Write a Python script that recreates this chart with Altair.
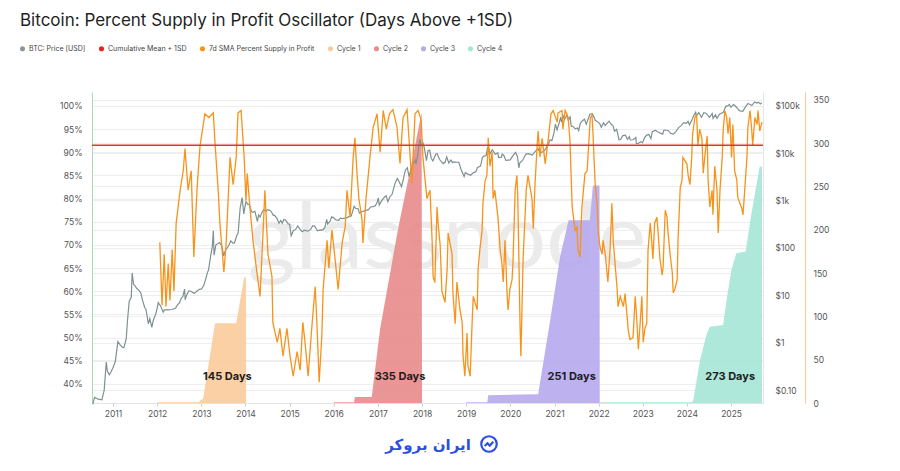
import altair as alt
import pandas as pd

TITLE = "Bitcoin: Percent Supply in Profit Oscillator (Days Above +1SD)"
SERIES = ["BTC: Price [USD]", "Cumulative Mean + 1SD", "7d SMA Percent Supply in Profit",
          "Cycle 1", "Cycle 2", "Cycle 3", "Cycle 4"]
COLORS = ["#8a9899", "#e8231f", "#f7931a", "#f9cb9a", "#e98b8b", "#b6a9ee", "#a4e5d6"]

# ---------------- BTC price (USD) ----------------
PRICE_DATE = [
    "2010-07-17", "2010-08-01", "2010-09-01", "2010-10-01", "2010-10-20", "2010-11-06", "2010-11-15", "2010-12-01", "2010-12-15",
    "2011-01-01", "2011-01-20", "2011-02-10", "2011-03-01", "2011-03-20", "2011-04-01", "2011-04-20", "2011-05-01", "2011-05-15",
    "2011-06-01", "2011-06-08", "2011-06-20", "2011-07-01", "2011-07-15", "2011-08-01", "2011-08-20", "2011-09-01", "2011-09-20",
    "2011-10-01", "2011-10-20", "2011-11-01", "2011-11-18", "2011-12-01", "2011-12-20",
    "2012-01-01", "2012-01-10", "2012-02-01", "2012-02-20", "2012-03-01", "2012-04-01", "2012-05-01", "2012-06-01", "2012-06-20",
    "2012-07-01", "2012-07-20", "2012-08-01", "2012-08-15", "2012-08-20", "2012-09-01", "2012-09-20", "2012-10-01", "2012-10-20",
    "2012-11-01", "2012-11-20", "2012-12-01", "2012-12-20",
    "2013-01-01", "2013-01-20", "2013-02-01", "2013-02-20", "2013-03-01", "2013-03-20", "2013-04-01", "2013-04-10", "2013-04-16",
    "2013-05-01", "2013-05-20", "2013-06-01", "2013-06-20", "2013-07-05", "2013-07-20", "2013-08-01", "2013-08-20", "2013-09-01",
    "2013-09-20", "2013-10-01", "2013-10-20", "2013-11-01", "2013-11-18", "2013-12-04", "2013-12-18", "2013-12-28",
    "2014-01-05", "2014-01-20", "2014-02-01", "2014-02-20", "2014-03-01", "2014-03-20", "2014-04-10", "2014-04-20", "2014-05-01",
    "2014-05-20", "2014-06-01", "2014-06-20", "2014-07-01", "2014-07-20", "2014-08-01", "2014-08-18", "2014-09-01", "2014-09-20",
    "2014-10-05", "2014-10-20", "2014-11-01", "2014-11-15", "2014-12-01", "2014-12-20",
    "2015-01-01", "2015-01-14", "2015-02-01", "2015-02-20", "2015-03-10", "2015-03-25", "2015-04-15", "2015-05-01", "2015-06-01",
    "2015-06-25", "2015-07-10", "2015-07-25", "2015-08-20", "2015-09-10", "2015-10-01", "2015-10-20", "2015-11-04", "2015-11-11",
    "2015-12-01", "2015-12-15",
    "2016-01-01", "2016-01-20", "2016-02-10", "2016-02-25", "2016-03-15", "2016-04-15", "2016-05-01", "2016-05-25", "2016-06-18",
    "2016-07-01", "2016-07-20", "2016-08-02", "2016-08-20", "2016-09-15", "2016-10-15", "2016-11-01", "2016-11-20", "2016-12-10",
    "2016-12-25",
    "2017-01-04", "2017-01-12", "2017-02-01", "2017-02-25", "2017-03-10", "2017-03-24", "2017-04-10", "2017-04-28", "2017-05-10",
    "2017-05-25", "2017-06-10", "2017-06-25", "2017-07-15", "2017-07-31", "2017-08-15", "2017-09-01", "2017-09-15", "2017-10-01",
    "2017-10-20", "2017-11-07", "2017-11-12", "2017-11-28", "2017-12-07", "2017-12-17", "2017-12-22",
    "2018-01-06", "2018-01-20", "2018-02-06", "2018-02-20", "2018-03-05", "2018-03-18", "2018-04-01", "2018-04-25", "2018-05-05",
    "2018-05-25", "2018-06-24", "2018-07-10", "2018-07-24", "2018-08-10", "2018-08-28", "2018-09-10", "2018-09-20", "2018-10-15",
    "2018-11-01", "2018-11-20", "2018-12-15", "2018-12-25",
    "2019-01-15", "2019-02-07", "2019-02-25", "2019-03-20", "2019-04-05", "2019-04-30", "2019-05-15", "2019-05-30", "2019-06-15",
    "2019-06-26", "2019-07-10", "2019-07-17", "2019-08-05", "2019-08-29", "2019-09-20", "2019-09-26", "2019-10-20", "2019-10-26",
    "2019-11-10", "2019-11-25", "2019-12-15",
    "2020-01-01", "2020-01-20", "2020-02-13", "2020-02-28", "2020-03-12", "2020-03-20", "2020-04-10", "2020-04-30", "2020-05-10",
    "2020-05-30", "2020-06-15", "2020-07-01", "2020-07-27", "2020-08-17", "2020-09-05", "2020-09-25", "2020-10-10", "2020-10-25",
    "2020-11-10", "2020-11-25", "2020-12-10", "2020-12-28",
    "2021-01-08", "2021-01-22", "2021-02-10", "2021-02-21", "2021-02-28", "2021-03-13", "2021-03-25", "2021-04-14", "2021-04-25",
    "2021-05-10", "2021-05-19", "2021-06-01", "2021-06-22", "2021-07-10", "2021-07-20", "2021-08-01", "2021-08-15", "2021-09-06",
    "2021-09-21", "2021-10-05", "2021-10-20", "2021-11-10", "2021-11-25", "2021-12-04", "2021-12-20",
    "2022-01-10", "2022-01-23", "2022-02-10", "2022-02-24", "2022-03-28", "2022-04-15", "2022-04-30", "2022-05-12", "2022-05-30",
    "2022-06-13", "2022-06-18", "2022-07-01", "2022-07-20", "2022-08-10", "2022-08-28", "2022-09-12", "2022-09-20", "2022-10-15",
    "2022-11-05", "2022-11-09", "2022-11-21", "2022-12-15", "2022-12-30",
    "2023-01-15", "2023-02-01", "2023-02-20", "2023-03-10", "2023-03-20", "2023-04-14", "2023-05-10", "2023-06-15", "2023-06-25",
    "2023-07-15", "2023-08-01", "2023-08-18", "2023-09-11", "2023-10-01", "2023-10-24", "2023-11-15", "2023-12-05", "2023-12-28",
    "2024-01-11", "2024-01-23", "2024-02-15", "2024-02-28", "2024-03-14", "2024-03-20", "2024-04-08", "2024-05-01", "2024-05-20",
    "2024-06-07", "2024-07-05", "2024-07-29", "2024-08-05", "2024-08-25", "2024-09-06", "2024-09-27", "2024-10-29", "2024-11-13",
    "2024-11-22", "2024-12-05", "2024-12-17", "2024-12-30",
    "2025-01-20", "2025-02-01", "2025-02-28", "2025-03-10", "2025-04-08", "2025-04-30", "2025-05-22", "2025-06-22", "2025-07-14",
    "2025-08-02", "2025-08-14", "2025-09-01", "2025-09-12",
]
PRICE_USD = [
    0.05, 0.07, 0.064, 0.062, 0.10, 0.39, 0.25, 0.21, 0.24,
    0.30, 0.40, 1.05, 0.90, 0.80, 0.78, 1.2, 3.0, 7.5,
    9.0, 29.6, 17, 16, 14, 13, 11, 8, 5.5,
    5.0, 2.5, 3.2, 2.1, 3.0, 4.0,
    5.3, 7.0, 5.8, 4.4, 4.9, 4.9, 5.0, 5.3, 6.5,
    6.7, 8.8, 9.3, 13.5, 8.0, 10.2, 12.4, 12.3, 11.6,
    10.9, 11.8, 12.6, 13.5,
    13.4, 16, 20, 30, 34, 70, 105, 230, 70,
    116, 123, 129, 108, 68, 90, 98, 118, 140,
    125, 125, 180, 205, 700, 1150, 520, 740,
    950, 830, 830, 580, 560, 590, 360, 495, 450,
    580, 640, 590, 640, 620, 590, 490, 480, 410,
    330, 380, 330, 400, 380, 320,
    315, 180, 230, 245, 290, 250, 220, 235, 225,
    245, 290, 290, 230, 240, 238, 270, 400, 320,
    360, 450,
    430, 390, 380, 425, 415, 430, 450, 470, 750,
    680, 670, 540, 580, 610, 640, 730, 740, 775,
    900,
    1130, 800, 990, 1180, 1250, 940, 1200, 1350, 1750,
    2400, 2900, 2500, 1950, 2850, 4300, 4900, 3200, 4400,
    6000, 7100, 5900, 9800, 16500, 19300, 13800,
    17100, 12800, 6900, 11300, 11500, 7800, 6800, 9600, 9800,
    7400, 6000, 6400, 8300, 6200, 7100, 6300, 6500, 6400,
    6350, 4500, 3200, 3850,
    3600, 3400, 3800, 4000, 5000, 5300, 8000, 8700, 8800,
    12900, 12300, 9500, 11800, 9500, 10100, 8000, 8200, 9500,
    8800, 7000, 7100,
    7200, 8600, 10300, 8700, 4900, 6200, 6900, 8700, 9500,
    9700, 9400, 9100, 11000, 12300, 10100, 10700, 11300, 13000,
    15300, 19000, 18200, 27000,
    40500, 30800, 44800, 57500, 45200, 61200, 51300, 63500, 49000,
    58000, 37000, 36700, 32500, 33800, 29800, 41500, 47000, 51700,
    40700, 51500, 65900, 67500, 57100, 49000, 46600,
    41800, 35000, 43600, 38300, 47100, 40500, 37700, 29000, 31700,
    22400, 19000, 19300, 23400, 23900, 19600, 22300, 18900, 19100,
    21300, 15900, 15800, 17300, 16500,
    20900, 23700, 24800, 20200, 28000, 30400, 27600, 25100, 30500,
    30300, 29700, 26100, 25100, 27900, 34500, 37900, 44000, 42600,
    46600, 39500, 51800, 62500, 73100, 62000, 71600, 57000, 71400,
    69300, 56700, 68300, 54000, 64200, 53900, 65800, 72700, 90000,
    98900, 99000, 106100, 92500,
    105800, 100600, 84300, 78500, 76300, 94300, 111600, 100900, 119800,
    113300, 118300, 109200, 115900,
]

# ---------------- 7d SMA Percent Supply in Profit (%) ----------------
PSIP_YEAR = [
    2012.06, 2012.11, 2012.16, 2012.20, 2012.25, 2012.29, 2012.34, 2012.38, 2012.43, 2012.52, 2012.59, 2012.63, 2012.70, 2012.77, 2012.83, 2012.90, 2012.97,
    2013.08, 2013.17, 2013.27, 2013.31, 2013.38, 2013.42, 2013.51, 2013.56, 2013.65, 2013.72, 2013.79, 2013.83, 2013.90, 2013.97,
    2014.01, 2014.04, 2014.10, 2014.17, 2014.26, 2014.33, 2014.40, 2014.44, 2014.51, 2014.60, 2014.62, 2014.72, 2014.78, 2014.85, 2014.94,
    2015.01, 2015.08, 2015.17, 2015.24, 2015.30, 2015.35, 2015.42, 2015.51, 2015.55, 2015.58, 2015.62, 2015.67, 2015.73, 2015.76, 2015.85, 2015.89, 2015.96,
    2016.03, 2016.10, 2016.19, 2016.26, 2016.30, 2016.37, 2016.44, 2016.48, 2016.53, 2016.57, 2016.64, 2016.66, 2016.73, 2016.82, 2016.89, 2016.98,
    2017.05, 2017.12, 2017.19, 2017.26, 2017.34, 2017.43, 2017.50, 2017.57, 2017.66, 2017.71, 2017.77, 2017.84, 2017.91, 2017.98,
    2018.02, 2018.11, 2018.18, 2018.23, 2018.25, 2018.29, 2018.34, 2018.36, 2018.41, 2018.45, 2018.52, 2018.57, 2018.59, 2018.68, 2018.70, 2018.75, 2018.79, 2018.86, 2018.91, 2018.93, 2018.97,
    2019.02, 2019.04, 2019.09, 2019.13, 2019.16, 2019.25, 2019.27, 2019.31, 2019.36, 2019.38, 2019.43, 2019.47, 2019.50, 2019.54, 2019.59, 2019.61, 2019.65, 2019.72, 2019.77, 2019.81, 2019.84, 2019.88, 2019.93, 2019.95, 2019.99,
    2020.04, 2020.06, 2020.11, 2020.15, 2020.17, 2020.22, 2020.24, 2020.29, 2020.36, 2020.40, 2020.49, 2020.52, 2020.56, 2020.61, 2020.63, 2020.67, 2020.72, 2020.79, 2020.86, 2020.92, 2020.97,
    2021.06, 2021.08, 2021.17, 2021.19, 2021.24, 2021.31, 2021.35, 2021.40, 2021.47, 2021.51, 2021.53, 2021.58, 2021.62, 2021.69, 2021.74, 2021.81, 2021.85, 2021.87, 2021.92, 2021.97, 2021.99,
    2022.03, 2022.08, 2022.10, 2022.15, 2022.21, 2022.26, 2022.30, 2022.33, 2022.42, 2022.44, 2022.49, 2022.56, 2022.60, 2022.67, 2022.71, 2022.78, 2022.83, 2022.87, 2022.90, 2022.94, 2022.98,
    2023.01, 2023.05, 2023.09, 2023.12, 2023.17, 2023.21, 2023.23, 2023.27, 2023.32, 2023.35, 2023.39, 2023.44, 2023.46, 2023.51, 2023.55, 2023.57, 2023.62, 2023.67, 2023.69, 2023.73, 2023.78, 2023.80, 2023.85, 2023.89, 2023.91,
    2024.00, 2024.03, 2024.07, 2024.11, 2024.13, 2024.18, 2024.22, 2024.25, 2024.29, 2024.34, 2024.37, 2024.41, 2024.46, 2024.48, 2024.52, 2024.57, 2024.59, 2024.63, 2024.68, 2024.71, 2024.75, 2024.80, 2024.82, 2024.86, 2024.90, 2024.93, 2024.97,
    2025.01, 2025.04, 2025.08, 2025.13, 2025.15, 2025.20, 2025.24, 2025.27, 2025.31, 2025.36, 2025.38, 2025.43, 2025.47, 2025.49, 2025.54, 2025.59, 2025.61, 2025.65, 2025.70,
]
PSIP_PCT = [
    70.6, 57, 68, 56.7, 66, 58, 69, 60, 74.7, 81.8, 86, 90.8, 81.8, 86, 67.4, 81.8, 91.4,
    98.3, 97.5, 98.5, 91.9, 82, 74.7, 64.2, 70, 88.9, 83, 89, 98.5, 99, 88.9,
    79.6, 85.4, 78.2, 71, 64, 58.9, 73.2, 81.8, 68, 63.2, 53.3, 49, 52, 46, 52,
    46, 41.7, 47, 43, 53.3, 49, 41.7, 53, 57.6, 61, 53, 40.4, 50.3, 60.4, 71, 65, 73.2,
    67, 60.4, 70.4, 74, 81.8, 76, 88.9, 93.1, 85, 80, 75.4, 70.4, 80, 88.9, 95.3, 98.3,
    90, 99, 95, 98.3, 99.2, 95.5, 87.6, 97.5, 99.2, 92, 83.3, 98.3, 99, 97,
    88.9, 80, 81.8, 70.4, 63.2, 61.9, 78.2, 75, 70, 60, 57.6, 65, 72.6, 68, 59.7, 53, 62, 56, 53.3, 46, 41.7,
    51, 44, 41.7, 52, 58.9, 56, 64.6, 69, 73, 79, 83.9, 85, 93.1, 87, 90, 80, 81.8, 76, 68.9, 66, 62, 71, 58.9, 56, 60.4,
    62.5, 66, 81.8, 85, 80, 53, 46, 67, 81.8, 85, 80, 73.5, 83.3, 91.9, 94.6, 89, 93, 87.5, 93, 98.3, 99,
    96.5, 98.5, 99, 95, 99, 97.5, 92.5, 78.2, 73, 74, 69, 67.4, 78, 85.4, 86, 97.4, 98, 94.5, 83.3, 78.2, 73,
    69.6, 68, 71, 68, 62, 69, 79, 71, 60.4, 56.7, 58.9, 56.7, 59.5, 51.8, 49.6, 50, 58.9, 53, 47.5, 53, 58.9,
    49, 52, 53, 68.9, 74.7, 70, 67, 74.7, 76, 72.5, 67, 63.5, 65, 77.5, 76, 73, 68, 64, 59.7, 60.5, 62.5, 71, 82.4, 84, 88.9,
    87.5, 85, 83, 89, 94, 97.4, 98.2, 91.5, 95, 93, 85.5, 89.5, 93.5, 84, 78.2, 81.8, 76.5, 87, 82, 72.6, 82, 89, 94.5, 99, 97.5, 94, 97.5,
    88.9, 96, 86, 84, 80.3, 79, 78, 76.5, 82, 89, 95.3, 99, 94.5, 91.5, 97.5, 96, 99, 94.6, 96.5,
]

# Cumulative mean + 1SD level (%)
MEAN_1SD = [91.5]

# ---------------- Cycle day counts (days above +1SD) ----------------
C1_YEAR = [2012.00, 2012.95, 2012.97, 2013.04, 2013.31, 2013.79, 2013.97, 2014.01, 2014.012]
C1_DAYS = [1, 1, 3, 5, 92, 92, 145, 145, 0]
C2_YEAR = [2016.00, 2016.46, 2016.48, 2016.86, 2017.05, 2017.46, 2017.77, 2017.99, 2018.00]
C2_DAYS = [1, 1, 7, 7, 86, 202, 279, 335, 0]
C3_YEAR = [2019.00, 2019.48, 2019.50, 2020.63, 2020.90, 2021.13, 2021.32, 2021.80, 2021.87, 2022.02, 2022.025]
C3_DAYS = [1, 1, 9, 10, 95, 170, 211, 211, 251, 251, 0]
C4_YEAR = [2022.03, 2024.12, 2024.15, 2024.30, 2024.45, 2024.52, 2024.82, 2024.90, 2025.01, 2025.12, 2025.33, 2025.45, 2025.55, 2025.65, 2025.70]
C4_DAYS = [1, 1, 5, 50, 80, 88, 90, 120, 154, 173, 175, 215, 245, 273, 273]

LABEL_TEXT = ["145 Days", "335 Days", "251 Days", "273 Days"]
LABEL_YEAR = [2013.59, 2017.50, 2021.39, 2024.98]
LABEL_DAYS = [30, 30, 30, 30]

YEARS = list(range(2011, 2026))


def yr2ts(y):
    yi = int(y)
    s = pd.Timestamp(yi, 1, 1)
    e = pd.Timestamp(yi + 1, 1, 1)
    return s + (e - s) * (y - yi)


price_df = pd.DataFrame({"date": pd.to_datetime(PRICE_DATE), "price": PRICE_USD})
psip_df = pd.DataFrame({"date": [yr2ts(v) for v in PSIP_YEAR], "pct": PSIP_PCT})
mean_df = pd.DataFrame({"pct": MEAN_1SD})
cycles = [(C1_YEAR, C1_DAYS), (C2_YEAR, C2_DAYS), (C3_YEAR, C3_DAYS), (C4_YEAR, C4_DAYS)]
cycle_dfs = [pd.DataFrame({"date": [yr2ts(v) for v in ys], "days": ds}) for ys, ds in cycles]
label_df = pd.DataFrame({"date": [yr2ts(v) for v in LABEL_YEAR], "days": LABEL_DAYS, "t": LABEL_TEXT})
legend_df = pd.DataFrame({"series": SERIES, "date": [pd.Timestamp(2015, 1, 1)] * 7, "pct": [None] * 7})

FONT = "Inter"
LBL = "#555555"
GRID = "#eeeeee"

x_domain = [alt.DateTime(year=2010, month=7, date=11), alt.DateTime(year=2025, month=9, date=22)]
x_axis = alt.Axis(values=[alt.DateTime(year=y, month=1, date=1) for y in YEARS], format="%Y",
                  labelFontSize=8.5, labelColor=LBL, labelFont=FONT, tickSize=3, tickColor="#cccccc",
                  domainColor="#e3e3e3", grid=False, labelPadding=3, title=None)


def X():
    return alt.X("date:T", scale=alt.Scale(domain=x_domain), axis=x_axis, title=None)


# ---- days (right, offset) layer ----
days_scale = alt.Scale(domain=[0, 359], nice=False)
days_axis = alt.Axis(orient="right", offset=42, values=list(range(0, 351, 50)), tickSize=0, labelPadding=8,
                     labelFontSize=8.5, labelColor=LBL, labelFont=FONT, domainColor="#f6cf9f", domainWidth=1.2,
                     grid=True, gridColor=GRID, title=None)


def YD():
    return alt.Y("days:Q", scale=days_scale, axis=days_axis, title=None)


watermark = alt.Chart(pd.DataFrame({"t": ["glassnode"]})).mark_text(
    fontSize=92, font="Lato", color="#ebebeb", align="center", baseline="alphabetic"
).encode(x=alt.value(355), y=alt.value(176), text="t:N")

area_layers = []
for i, df in enumerate(cycle_dfs):
    area_layers.append(
        alt.Chart(df).mark_area(color=COLORS[3 + i], opacity=0.9, interpolate="linear").encode(x=X(), y=YD())
    )

labels = alt.Chart(label_df).mark_text(fontSize=11, fontWeight="bold", font=FONT, color="#1e1e1e",
                                       align="center", baseline="middle").encode(x=X(), y=YD(), text="t:N")

days_layer = alt.layer(watermark, *area_layers, labels)

# ---- price (right, log) layer ----
price_axis = alt.Axis(orient="right", values=[0.1, 1, 10, 100, 1000, 10000, 100000], tickSize=0, labelPadding=12,
                      labelFontSize=8.5, labelColor=LBL, labelFont=FONT, domainColor="#e6e6e6",
                      grid=True, gridColor=GRID, title=None,
                      labelExpr="datum.value >= 1000 ? '$' + format(datum.value / 1000, 'd') + 'k' : "
                                "(datum.value >= 1 ? '$' + format(datum.value, 'd') : '$' + format(datum.value, '.2f'))")
price_layer = alt.Chart(price_df).mark_line(color="#7f9192", strokeWidth=1.2).encode(
    x=X(), y=alt.Y("price:Q", scale=alt.Scale(type="log", domain=[0.0532, 194500], nice=False),
                   axis=price_axis, title=None))

# ---- percent (left) layer ----
pct_scale = alt.Scale(domain=[35.9, 103], nice=False, zero=False)
pct_axis = alt.Axis(orient="left", values=list(range(40, 101, 5)), labelExpr="datum.value + '%'", tickSize=0,
                    labelPadding=10, labelFontSize=8.5, labelColor=LBL, labelFont=FONT,
                    domainColor="#a6dcb6", grid=True, gridColor=GRID, title=None)


def YP():
    return alt.Y("pct:Q", scale=pct_scale, axis=pct_axis, title=None)


psip_line = alt.Chart(psip_df).mark_line(color="#f7931a", strokeWidth=1.3).encode(x=X(), y=YP())
mean_rule = alt.Chart(mean_df).mark_rule(color="#e5302b", strokeWidth=1.6).encode(y=YP())
legend_pts = alt.Chart(legend_df).mark_circle(opacity=1).encode(
    x=X(), y=YP(),
    color=alt.Color("series:N", scale=alt.Scale(domain=SERIES, range=COLORS),
                    legend=alt.Legend(orient="none", legendX=-73, legendY=-47, direction="horizontal", columns=7,
                                      title=None, symbolType="circle", symbolSize=26, symbolStrokeWidth=0,
                                      labelFontSize=7, labelFont=FONT, labelColor="#444444", labelOffset=3,
                                      columnPadding=12, labelLimit=300)))
pct_layer = alt.layer(psip_line, mean_rule, legend_pts)

# ---- logo ----
logo_text = alt.Chart(pd.DataFrame({"t": ["ایران بروکر"]})).mark_text(
    font="DejaVu Sans", fontSize=15, fontWeight="bold", color="#2d4fe0", align="center", baseline="middle"
).encode(x=alt.value(336), y=alt.value(353), text="t:N")
logo_circle = alt.Chart(pd.DataFrame({"t": ["o"]})).mark_point(
    shape="circle", filled=False, size=240, strokeWidth=2.2, color="#2d4fe0", opacity=1
).encode(x=alt.value(397), y=alt.value(352))
logo_zig = alt.Chart(pd.DataFrame({"t": ["z"]})).mark_point(
    shape="M-0.55,0.25L-0.2,-0.1L0.1,0.2L0.55,-0.3", filled=False, size=240, strokeWidth=2.2,
    color="#2d4fe0", opacity=1
).encode(x=alt.value(397), y=alt.value(352))

chart = alt.layer(days_layer, price_layer, pct_layer, logo_text, logo_circle, logo_zig).resolve_scale(
    y="independent"
).properties(
    width=671, height=311,
    autosize=alt.AutoSizeParams(type="none"),
    padding={"left": 92, "top": 92, "right": 137, "bottom": 68},
    background="white",
    title=alt.TitleParams(TITLE, anchor="start", frame="group", dx=-72, offset=2, fontSize=17, font=FONT,
                          fontWeight="normal", color="#1f1f1f", baseline="alphabetic"),
).configure_view(stroke=None)

chart.save("out.html", embed_options={"renderer": "svg", "actions": False})
